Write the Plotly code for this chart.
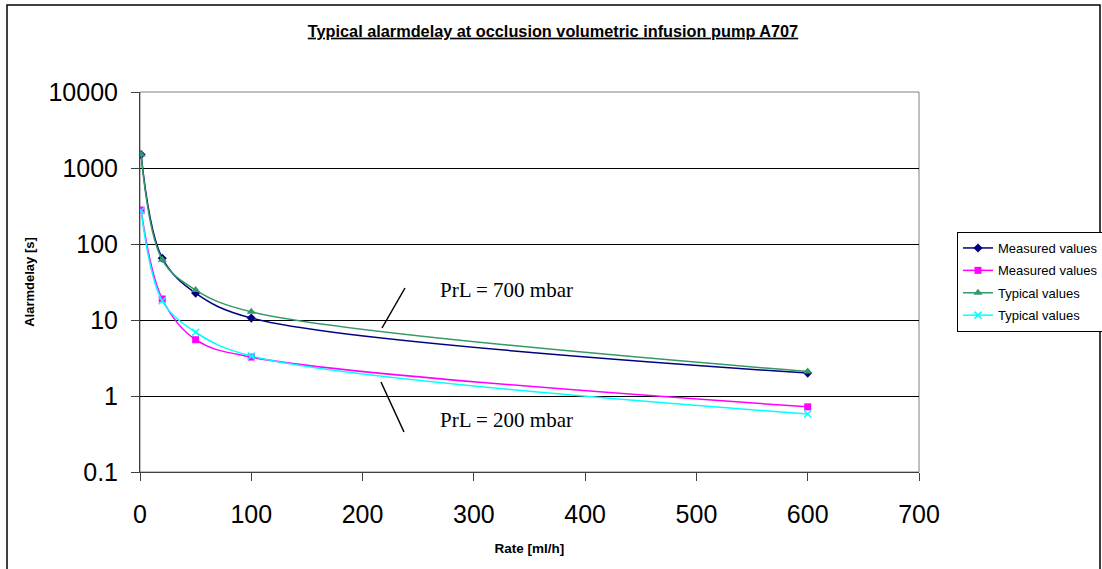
import plotly.graph_objects as go

rate = [1, 20, 50, 100, 600]
measured_700 = [1500, 65, 22.6, 10.6, 2.0]
measured_200 = [280, 18.9, 5.5, 3.25, 0.72]
typical_700 = [1500, 62, 24.8, 12.8, 2.1]
typical_200 = [275, 17.9, 6.9, 3.35, 0.58]

y_ticks = [0.1, 1, 10, 100, 1000, 10000]
y_ticktext = ["0.1", "1", "10", "100", "1000", "10000"]

series = [
    ("Measured values", measured_700, "#000080", dict(symbol="diamond", size=7)),
    ("Measured values", measured_200, "#FF00FF", dict(symbol="square", size=7)),
    ("Typical values", typical_700, "#339966", dict(symbol="triangle-up", size=8)),
    ("Typical values", typical_200, "#00FFFF", dict(symbol="x-thin", size=7,
                                                   line=dict(width=1.5, color="#00FFFF"))),
]

fig = go.Figure()
for i, (name, vals, color, mk) in enumerate(series):
    fig.add_trace(go.Scatter(
        x=rate, y=vals, name=name, mode="lines+markers", legendgroup=f"g{i}",
        line=dict(color=color, width=1.5, shape="spline", smoothing=1),
        marker=dict(color=color, **mk),
    ))

L, R, T, B = 140, 919, 92, 472
W, H = 1102, 569
pw, ph = R - L, B - T

def px(xp):
    return (xp - L) / pw

def py(yp):
    return (B - yp) / ph

shapes = [
    # outer chart border
    dict(type="rect", xref="paper", yref="paper", x0=px(7), x1=px(1100), y0=py(575), y1=py(5),
         line=dict(color="black", width=1.5), layer="below"),
    # plot area border
    dict(type="rect", xref="paper", yref="paper", x0=0, x1=1, y0=0, y1=1,
         line=dict(color="#808080", width=1), layer="below"),
    # annotation pointer lines
    dict(type="line", xref="paper", yref="paper", x0=px(405), y0=py(288), x1=px(382), y1=py(328),
         line=dict(color="black", width=1.5)),
    dict(type="line", xref="paper", yref="paper", x0=px(381), y0=py(382), x1=px(404), y1=py(432),
         line=dict(color="black", width=1.5)),
]

annotations = [
    dict(xref="paper", yref="paper", x=px(506), y=py(290), text="PrL = 700 mbar", showarrow=False,
         font=dict(family="Liberation Serif", size=21, color="black")),
    dict(xref="paper", yref="paper", x=px(506), y=py(434), text="PrL = 200 mbar", showarrow=False,
         font=dict(family="Liberation Serif", size=21, color="black")),
]

fig.update_layout(
    width=W, height=H,
    margin=dict(l=L, r=W - R, t=T, b=H - B, autoexpand=False),
    paper_bgcolor="white", plot_bgcolor="white",
    font=dict(family="Liberation Sans, Arial", color="black"),
    title=dict(text="<b><u>Typical alarmdelay at occlusion volumetric infusion pump A707</u></b>",
               x=553 / W, xref="container", xanchor="center",
               y=1 - 31 / H, yref="container", yanchor="middle",
               font=dict(size=16.3, color="black")),
    showlegend=True,
    legend=dict(x=px(957), y=py(232), xanchor="left", yanchor="top",
                bordercolor="black", borderwidth=1, bgcolor="white",
                font=dict(size=13, color="black"), itemwidth=30,
                tracegroupgap=2.5),
    shapes=shapes,
    annotations=annotations,
)

fig.update_xaxes(
    range=[0, 700], dtick=100, tick0=0,
    showgrid=False, zeroline=False,
    showline=True, linecolor="#404040", linewidth=1,
    ticks="outside", ticklen=8, tickcolor="#404040",
    tickfont=dict(size=25), ticklabelstandoff=12,
    title=dict(text="<b>Rate [ml/h]</b>", font=dict(size=13.5), standoff=16),
)
fig.update_yaxes(
    type="log", range=[-1, 4],
    tickvals=y_ticks, ticktext=y_ticktext,
    showgrid=True, gridcolor="black", gridwidth=1,
    zeroline=False,
    showline=True, linecolor="#404040", linewidth=1,
    ticks="outside", ticklen=8, tickcolor="#404040",
    tickfont=dict(size=25), ticklabelstandoff=8,
    title=dict(text="<b>Alarmdelay [s]</b>", font=dict(size=13), standoff=10),
)

fig.write_html("out.html", config={"displayModeBar": False},
               post_script="document.body.style.margin='0';")
